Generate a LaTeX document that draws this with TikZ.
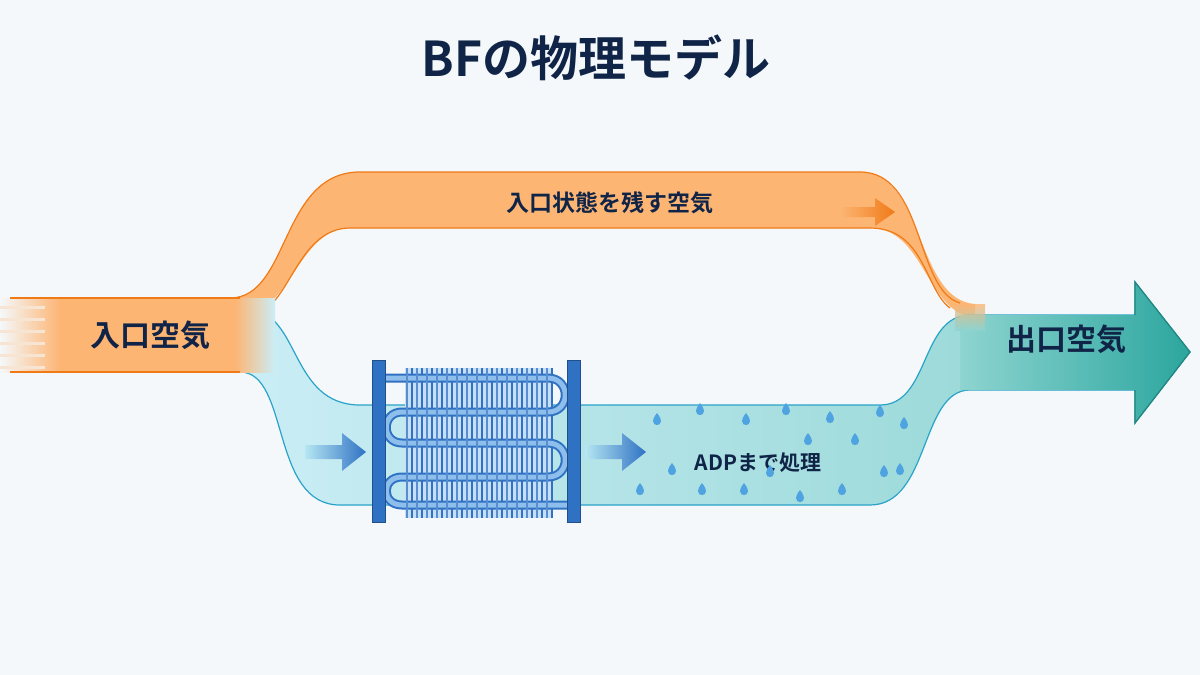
\documentclass[tikz,border=0pt]{standalone}
\usepackage{fontspec}
\setmainfont{Noto Sans CJK JP}[BoldFont={Noto Sans CJK JP Bold}]
\usetikzlibrary{arrows.meta}
\definecolor{bg}{HTML}{F4F8FA}
\definecolor{navy}{HTML}{0F2447}
\definecolor{org}{HTML}{FDB574}
\definecolor{orgl}{HTML}{F07A16}
\definecolor{cy}{HTML}{B5E6F2}
\definecolor{cyl}{HTML}{2AA3C9}
\definecolor{teal}{HTML}{2BA69E}
\definecolor{tealL}{HTML}{8ED4D0}
\definecolor{coil}{HTML}{2F72C4}
\definecolor{coill}{HTML}{8EBEEB}
\definecolor{drop}{HTML}{4FA3E0}
\tikzset{lbl/.style={font=\bfseries, text=navy},
 drop/.pic={\path[fill=drop] (0,-7) .. controls (3,-3) and (4,-1) .. (4,1) .. controls (4,4) and (2,5) .. (0,5) .. controls (-2,5) and (-4,4) .. (-4,1) .. controls (-4,-1) and (-3,-3) .. (0,-7);}}
\begin{document}
\begin{tikzpicture}[x=1pt,y=-1pt]
\fill[bg] (0,0) rectangle (1200,675);
\useasboundingbox (0,0) rectangle (1200,675);
% orange upper band (under outlet)
\path[fill=org]
 (230,298) .. controls (290,298) and (280,172) .. (360,172) -- (860,172)
 .. controls (925,172) and (915,300) .. (975,304)
 -- (975,318) .. controls (925,312) and (925,228) .. (870,228) -- (350,228)
 .. controls (300,228) and (290,310) .. (250,310) -- cycle;
\draw[orgl, line width=1.2] (230,298) .. controls (290,298) and (280,172) .. (360,172) -- (860,172)
 .. controls (925,172) and (915,290) .. (960,303);
\draw[orgl, line width=1.2] (950,308) .. controls (925,290) and (925,228) .. (870,228) -- (350,228)
 .. controls (300,228) and (290,300) .. (262,310);
% blue lower band + outlet
\path[left color=cy!70, right color=tealL, draw=cyl, line width=1.2]
 (250,310) .. controls (300,312) and (290,405) .. (360,405) -- (880,405)
 .. controls (930,405) and (920,315) .. (970,315) -- (1135,315) -- (1135,282) -- (1190,352) -- (1135,423) -- (1135,390) -- (970,390)
 .. controls (920,390) and (930,505) .. (870,505) -- (340,505)
 .. controls (270,505) and (290,372) .. (240,372) -- cycle;
\path[left color=tealL, right color=teal] (960,315) -- (1135,315) -- (1135,282) -- (1190,352) -- (1135,423) -- (1135,390) -- (960,390) -- cycle;
\path[top color=org, bottom color=tealL, opacity=0.8] (955,304) -- (985,304) -- (985,330) -- (955,330) -- cycle;
\draw[teal!80!black, line width=1.2] (1135,315) -- (1135,282) -- (1190,352) -- (1135,423) -- (1135,390);
% inlet
\fill[org] (30,298) rectangle (245,372);
\shade[left color=org, right color=cy!70] (235,298) rectangle (275,372);
\shade[left color=bg, right color=org] (0,298) rectangle (60,372);
\foreach \y in {306,318,330,342,354,366} \fill[bg!70!org] (0,\y) rectangle (45,\y+3);
\draw[orgl, line width=1.2] (10,298) -- (240,298) (10,372) -- (240,372);
\node[lbl, font=\bfseries\fontsize{30}{34}\selectfont] (in) at (150,335) {入口空気};
\node[lbl, font=\bfseries\fontsize{30}{34}\selectfont] (out) at (1066,339) {出口空気};
\node[lbl, font=\bfseries\fontsize{48}{52}\selectfont] (title) at (596,58) {BFの物理モデル};
\node[lbl, font=\bfseries\fontsize{23}{26}\selectfont] (top) at (610,203) {入口状態を残す空気};
\node[lbl, font=\bfseries\fontsize{21}{24}\selectfont] (adp) at (758,463) {ADPまで処理};
% small orange arrow
\path[left color=org, right color=orgl] (840,207) -- (875,207) -- (875,198) -- (895,212) -- (875,226) -- (875,217) -- (840,217) -- cycle;
% blue arrows
\path[left color=cy, right color=coil] (305,445) -- (342,445) -- (342,433) -- (366,452) -- (342,471) -- (342,459) -- (305,459) -- cycle;
\path[left color=cy, right color=coil] (585,445) -- (622,445) -- (622,433) -- (646,452) -- (622,471) -- (622,459) -- (585,459) -- cycle;
% coil fins
\fill[coill!50] (405,368) rectangle (552,518);
\foreach \x in {407,412,...,552} \draw[coil, line width=1.6] (\x,368) -- (\x,518);
% tubes
\foreach \c/\w in {coil/9, coill/5}{
 \draw[\c, line width=\w] (385,378) -- (548,378) .. controls (571,378) and (571,412) .. (548,412) -- (402,412)
   .. controls (381,412) and (381,443) .. (402,443) -- (548,443) .. controls (571,443) and (571,477) .. (548,477) -- (402,477)
   .. controls (381,477) and (381,505) .. (402,505) -- (567,505);
}
\foreach \x in {407,417,...,552} \draw[coil!80, line width=1.4] (\x,368) -- (\x,518);
% plates
\draw[fill=coil, draw=coil!70!black] (372,360) rectangle (385,522);
\draw[fill=coil, draw=coil!70!black] (567,360) rectangle (580,522);
% droplets
\foreach \p in {(657,420),(700,410),(746,420),(786,410),(830,418),(880,412),(904,424),(855,440),(640,490),(672,470),(702,490),(744,490),(770,472),(800,497),(842,490),(884,472),(900,470),(808,440)}
 \pic at \p {drop};
\end{tikzpicture}
\end{document}
